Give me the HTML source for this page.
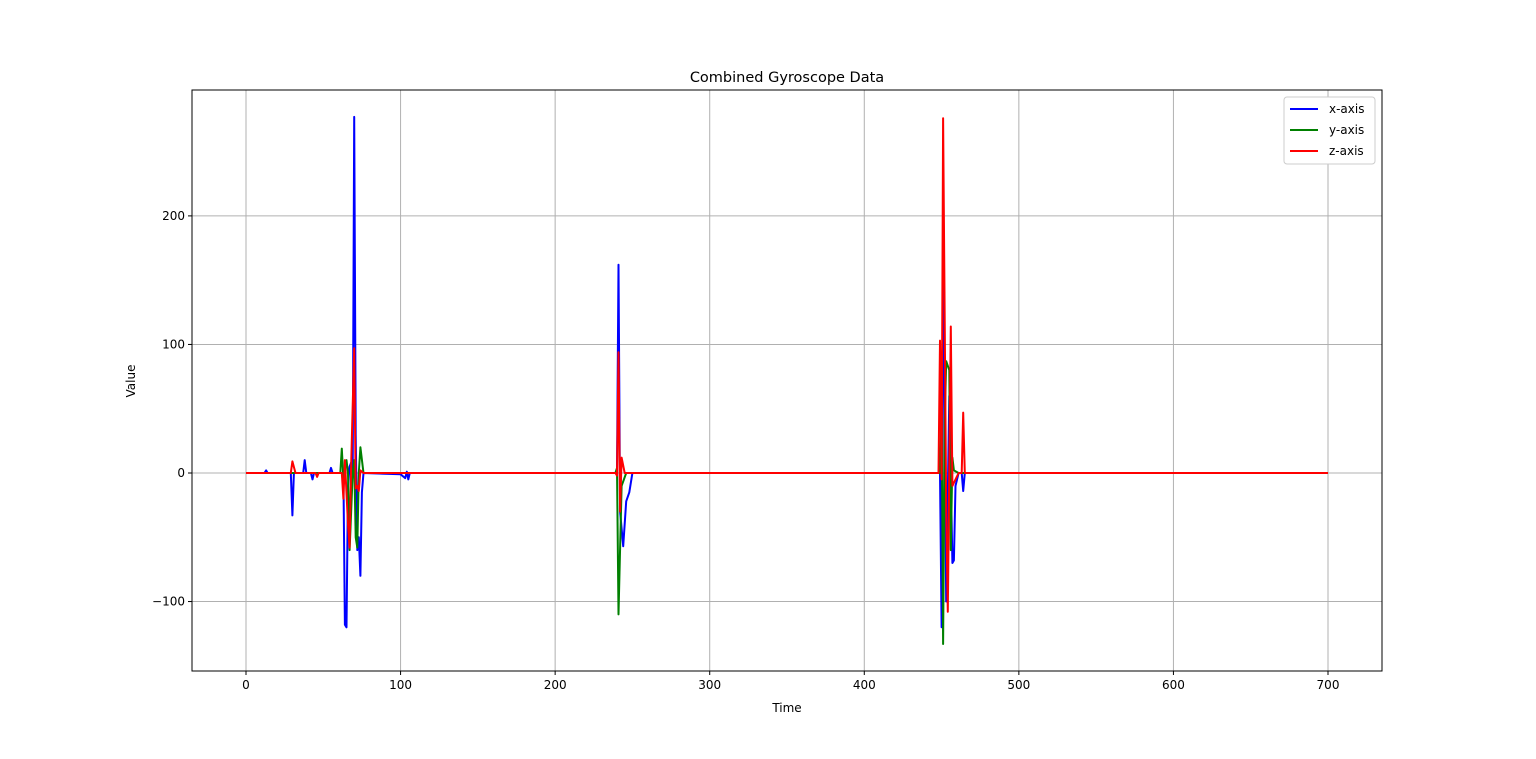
<!DOCTYPE html>
<html><head><meta charset="utf-8"><style>
body{margin:0;background:#fff;font-family:"Liberation Sans","DejaVu Sans",sans-serif;}
svg text{font-family:"DejaVu Sans","Liberation Sans",sans-serif;}
</style></head><body>
<svg id="c" width="1536" height="754" xmlns="http://www.w3.org/2000/svg"></svg>
<script>
const xTicks=[0,100,200,300,400,500,600,700];
const yTicks=[-100,0,100,200];
const xT=[0,12,13,14,29,30,31,37,38,39,42,43,44,54,55,56,63,64,65,66,67,68,69,70,71,72,73,74,75,76,100,103,104,105,106,140,239,240,241,242,244,246,248,250,260,448,449,450,451,452,453,455,457,458,459,461,463,464,465,700];
const xV=[0,0,2,0,0,-33,0,0,10,0,0,-5,0,0,4,0,0,-118,-120,-10,5,8,0,277,30,-60,-50,-80,-15,0,-1,-4,1,-5,0,0,0,2,162,-30,-57,-22,-15,0,0,0,0,-120,200,35,-100,60,-70,-68,-10,0,0,-14,0,0];
const yT=[0,61,62,63,65,66,67,69,70,71,72,73,74,76,239,240,241,243,246,448,449,450,451,452,453,455,456,457,458,461,700];
const yV=[0,0,19,-5,10,0,-60,0,10,-50,-58,0,20,0,0,4,-110,-10,0,0,0,60,-133,40,87,80,-60,12,2,0,0];
const zT=[0,29,30,32,45,46,47,62,63,64,66,67,68,70,71,72,73,74,76,239,240,241,242,243,245,448,449,450,451,452,453,454,456,457,459,461,463,464,465,700];
const zV=[0,0,9,0,0,-3,0,0,-20,10,-40,-58,5,97,-12,-10,-14,2,0,0,-2,94,-30,12,0,0,103,-5,276,120,-30,-108,114,-10,-5,0,0,47,0,0];
const L=192,R=1382,T=90,B=671;
const sx=t=>246+t*(1328-246)/700;
const sy=v=>473-v*1.2855;
const svg=document.getElementById('c');const NS='http://www.w3.org/2000/svg';
function mk(tag,attrs,txt){const e=document.createElementNS(NS,tag);for(const k in attrs)e.setAttribute(k,attrs[k]);if(txt!==undefined)e.textContent=txt;svg.appendChild(e);return e;}
let e=mk('rect',{x:L,y:T,width:R-L,height:B-T,fill:'#fff'});


xTicks.forEach(t=>{const x=sx(t);
 let g=mk('line',{x1:x,x2:x,y1:T,y2:B,stroke:'#b0b0b0','stroke-width':1});
 
 
 mk('line',{x1:x,x2:x,y1:B,y2:B+4,stroke:'#000'});
 let l=mk('text',{x:x,y:B+18,'text-anchor':'middle','font-size':12},String(t));
 
 });
yTicks.forEach(v=>{const y=sy(v);
 let g=mk('line',{x1:L,x2:R,y1:y,y2:y,stroke:'#b0b0b0','stroke-width':1});
 
 
 mk('line',{x1:L-4,x2:L,y1:y,y2:y,stroke:'#000'});
 let l=mk('text',{x:L-7,y:y+4,'text-anchor':'end','font-size':12},v<0?'\u2212'+(-v):String(v));
 
 });
function line(ts,vs,color,name){const d=ts.map((t,i)=>(i?'L':'M')+sx(t).toFixed(1)+','+sy(vs[i]).toFixed(1)).join('');
 const p=mk('path',{d:d,fill:'none',stroke:color,'stroke-width':2,'stroke-linejoin':'round'});
 
 }
line(xT,xV,'#0000ff','x-axis-series');
line(yT,yV,'#008000','y-axis-series');
line(zT,zV,'#ff0000','z-axis-series');
let f=mk('rect',{x:L,y:T,width:R-L,height:B-T,fill:'none',stroke:'#000','stroke-width':1});


let t1=mk('text',{x:787,y:82,'text-anchor':'middle','font-size':14.5},'Combined Gyroscope Data');


let t2=mk('text',{x:787,y:712,'text-anchor':'middle','font-size':12},'Time');


let t3=mk('text',{x:135,y:381,'text-anchor':'middle','font-size':12,transform:'rotate(-90 135 381)'},'Value');


let lg=mk('rect',{x:1284,y:97,width:91,height:67,fill:'#fff',stroke:'#ccc',rx:3});


[['x-axis','#0000ff'],['y-axis','#008000'],['z-axis','#ff0000']].forEach((s,i)=>{const y=109+i*21;
 mk('line',{x1:1290,x2:1318,y1:y,y2:y,stroke:s[1],'stroke-width':2});
 let t=mk('text',{x:1329,y:y+4,'font-size':12},s[0]);
 
 });
</script>
</body></html>
